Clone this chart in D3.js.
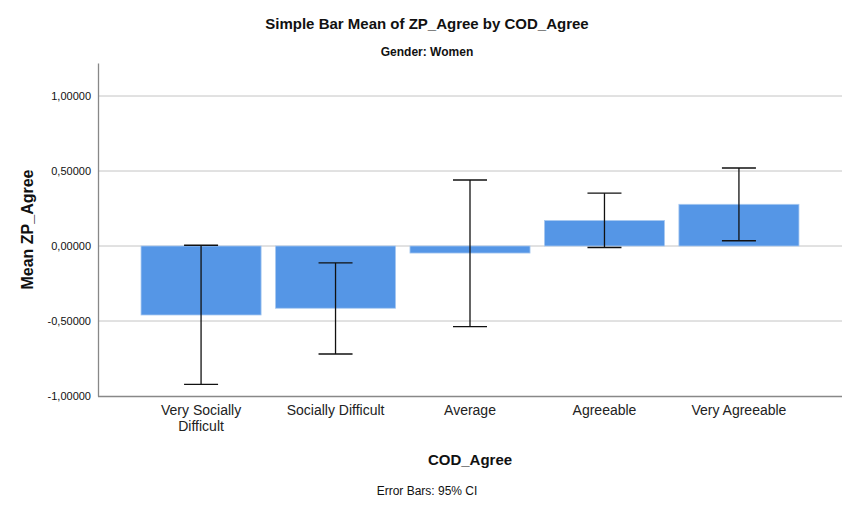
<!DOCTYPE html>
<html>
<head>
<meta charset="utf-8">
<script src="https://cdn.jsdelivr.net/npm/d3@7"></script>
<style>
  body { margin: 0; background: #fff; }
  text { font-family: "Liberation Sans", Arial, sans-serif; }
</style>
</head>
<body>
<div id="chart"></div>
<script>
// data
var categories = ["Very Socially Difficult", "Socially Difficult", "Average", "Agreeable", "Very Agreeable"];
var means = [-0.460, -0.415, -0.047, 0.170, 0.278];
var ciLow = [-0.923, -0.720, -0.538, -0.010, 0.035];
var ciHigh = [0.005, -0.113, 0.440, 0.352, 0.520];
var yTicks = [-1, -0.5, 0, 0.5, 1];

var W = 855, H = 508;
var plotLeft = 98, plotRight = 842, plotTop = 63, plotBottom = 396;

var svg = d3.select("#chart").append("svg")
    .attr("width", W)
    .attr("height", H);

var x = d3.scaleBand()
    .domain(categories)
    .range([plotLeft, plotRight])
    .paddingInner(0.107)
    .paddingOuter(0.32);

var y = d3.scaleLinear()
    .domain([-1, 1.22])
    .range([plotBottom, plotTop]);

var fmt = function(d) {
    return d3.format(".5f")(d).replace(".", ",").replace("\u2212", "-");
};

// gridlines
svg.append("g")
    .selectAll("line")
    .data(yTicks.filter(function(d) { return d > -1; }))
    .enter()
    .append("line")
    .attr("x1", plotLeft)
    .attr("x2", plotRight)
    .attr("y1", function(d) { return y(d); })
    .attr("y2", function(d) { return y(d); })
    .attr("stroke", "#c4c4c4")
    .attr("stroke-width", 1);

// bars
svg.append("g")
    .selectAll("rect")
    .data(means)
    .enter()
    .append("rect")
    .attr("x", function(d, i) { return x(categories[i]); })
    .attr("width", x.bandwidth())
    .attr("y", function(d) { return y(Math.max(0, d)); })
    .attr("height", function(d) { return Math.abs(y(d) - y(0)); })
    .attr("fill", "#5596e6")
    .attr("stroke", "#a9c9f0")
    .attr("stroke-width", 0.8);

// error bars
var eb = svg.append("g").attr("stroke", "#111").attr("stroke-width", 1.3);
var capHalf = 17;
categories.forEach(function(c, i) {
    var cx = x(c) + x.bandwidth() / 2;
    eb.append("line")
        .attr("x1", cx).attr("x2", cx)
        .attr("y1", y(ciLow[i])).attr("y2", y(ciHigh[i]));
    [ciLow[i], ciHigh[i]].forEach(function(v) {
        eb.append("line")
            .attr("x1", cx - capHalf).attr("x2", cx + capHalf)
            .attr("y1", y(v)).attr("y2", y(v));
    });
});

// y axis
var yAxis = svg.append("g")
    .attr("transform", "translate(" + plotLeft + ",0)")
    .call(d3.axisLeft(y).tickValues(yTicks).tickFormat(fmt).tickSize(0).tickPadding(7).tickSizeOuter(0));
yAxis.select(".domain").attr("stroke", "#888").attr("stroke-width", 1.3);
yAxis.selectAll("text")
    .attr("font-family", "Liberation Sans, Arial, sans-serif")
    .attr("font-size", "11px")
    .attr("fill", "#111");

// x axis
var xAxis = svg.append("g")
    .attr("transform", "translate(0," + plotBottom + ")")
    .call(d3.axisBottom(x).tickSize(0).tickPadding(9).tickSizeOuter(0));
xAxis.select(".domain").attr("stroke", "#888").attr("stroke-width", 1.3)
    .attr("d", "M" + plotLeft + ",0.5H" + plotRight);
xAxis.selectAll("text")
    .attr("font-family", "Liberation Sans, Arial, sans-serif")
    .attr("font-size", "14px")
    .attr("fill", "#222")
    .each(function(d) {
        var t = d3.select(this);
        if (d === "Very Socially Difficult") {
            t.text(null);
            t.append("tspan").attr("x", 0).attr("dy", "0.71em").text("Very Socially");
            t.append("tspan").attr("x", 0).attr("dy", "1.12em").text("Difficult");
            t.attr("dy", null);
        }
    });

// titles
svg.append("text")
    .attr("x", 427).attr("y", 29)
    .attr("text-anchor", "middle")
    .attr("font-size", "15px").attr("font-weight", "bold")
    .attr("fill", "#111")
    .text("Simple Bar Mean of ZP_Agree by COD_Agree");

svg.append("text")
    .attr("x", 427).attr("y", 56)
    .attr("text-anchor", "middle")
    .attr("font-size", "12px").attr("font-weight", "bold")
    .attr("fill", "#111")
    .text("Gender: Women");

svg.append("text")
    .attr("transform", "translate(33," + ((plotTop + plotBottom) / 2) + ") rotate(-90)")
    .attr("text-anchor", "middle")
    .attr("font-size", "16px").attr("font-weight", "bold")
    .attr("fill", "#111")
    .text("Mean ZP_Agree");

svg.append("text")
    .attr("x", 470).attr("y", 465)
    .attr("text-anchor", "middle")
    .attr("font-size", "15px").attr("font-weight", "bold")
    .attr("fill", "#111")
    .text("COD_Agree");

svg.append("text")
    .attr("x", 427).attr("y", 495)
    .attr("text-anchor", "middle")
    .attr("font-size", "12px")
    .attr("fill", "#111")
    .text("Error Bars: 95% CI");
</script>
</body>
</html>
